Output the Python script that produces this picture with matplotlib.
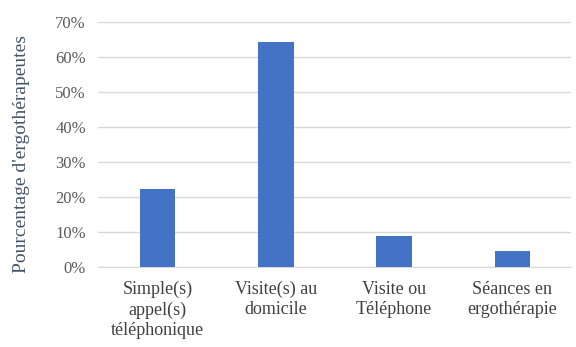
import matplotlib.pyplot as plt
from matplotlib.ticker import PercentFormatter

categories = ["Simple(s)\nappel(s)\ntéléphonique", "Visite(s) au\ndomicile",
              "Visite ou\nTéléphone", "Séances en\nergothérapie"]
percentages = [22.2, 64.4, 8.9, 4.4]
y_ticks = [0, 10, 20, 30, 40, 50, 60, 70]

plt.rcParams['font.family'] = ['Liberation Serif', 'DejaVu Serif']

fig = plt.figure(figsize=(5.76, 3.47), dpi=100)
ax = fig.add_axes([0.171, 0.231, 0.821, 0.705])

ax.bar(range(len(categories)), percentages, width=0.3, color="#4472C4", zorder=3)
ax.set_xlim(-0.5, len(categories) - 0.5)
ax.set_ylim(0, 70)
ax.set_yticks(y_ticks)
ax.yaxis.set_major_formatter(PercentFormatter(decimals=0))
ax.grid(axis="y", color="#D9D9D9", linewidth=1, zorder=0)

for side in ["top", "right", "left"]:
    ax.spines[side].set_visible(False)
ax.spines["bottom"].set_color("#D9D9D9")

ax.set_xticks(range(len(categories)))
ax.set_xticklabels(categories, fontsize=13, color="#404040", linespacing=1.25)
ax.tick_params(axis="both", length=0)
ax.tick_params(axis="y", labelsize=12, labelcolor="#595959", pad=9)
ax.tick_params(axis="x", pad=10)

ax.set_ylabel("Pourcentage d'ergothérapeutes", fontsize=14, color="#44546A")
ax.yaxis.set_label_coords(-0.145, 0.46)

fig.savefig("out.png", dpi=100)
